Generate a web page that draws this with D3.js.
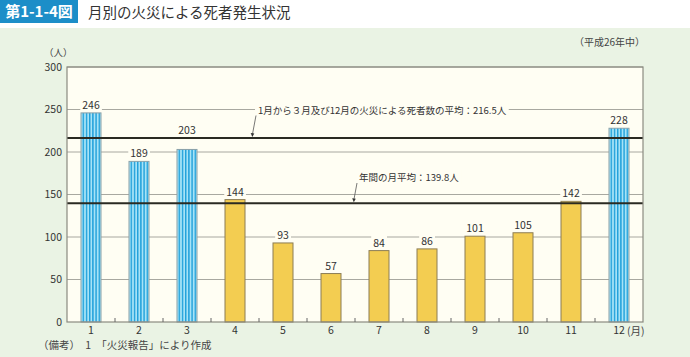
<!DOCTYPE html>
<html><head><meta charset="utf-8">
<script src="https://cdn.jsdelivr.net/npm/d3@7"></script>
<style>body{margin:0;background:#fff;}svg{display:block;font-family:"Noto Sans CJK JP","Noto Sans",sans-serif;}</style>
</head><body><svg id="c" width="690" height="357"></svg>
<script>
const months = ["1","2","3","4","5","6","7","8","9","10","11","12"];
const deaths = [246,189,203,144,93,57,84,86,101,105,142,228];
const highlight = [true,true,true,false,false,false,false,false,false,false,false,true];
const yTicks = [0,50,100,150,200,250,300];
const avgWinter = 216.5;
const avgYear = 139.8;
const avgWinterLabel = "1月から３月及び12月の火災による死者数の平均：216.5人";
const avgYearLabel = "年間の月平均：139.8人";

(function(){
const svg = d3.select("#c");
const W = 690, H = 357;
const mL = 67, mR = 643, mT = 67, mB = 322;

svg.append("rect").attr("x",0).attr("y",28).attr("width",W).attr("height",H-28).attr("fill","#eaf3e4");
svg.append("rect").attr("x",0).attr("y",0).attr("width",78).attr("height",23).attr("fill","#1c8ec8");
svg.append("text").attr("x",39).attr("y",17).attr("text-anchor","middle").attr("fill","#fff")
  .attr("font-size",15).attr("font-weight","bold").text("第1-1-4図");
svg.append("text").attr("x",88).attr("y",17.5).attr("fill","#333").attr("font-size",14.5).text("月別の火災による死者発生状況");
svg.append("text").attr("x",645).attr("y",46).attr("text-anchor","end").attr("fill","#444").attr("font-size",10).text("（平成26年中）");

const defs = svg.append("defs");
const pat = defs.append("pattern").attr("id","stripes").attr("patternUnits","userSpaceOnUse")
  .attr("width",3.2).attr("height",10).attr("x",81);
pat.append("rect").attr("width",3.2).attr("height",10).attr("fill","#a6e3f7");
pat.append("rect").attr("x",1.6).attr("width",1.4).attr("height",10).attr("fill","#1fa0da");

const x = d3.scaleBand().domain(months).range([mL,mR]).paddingInner(0).paddingOuter(0);
const y = d3.scaleLinear().domain([0,300]).range([mB,mT]);

svg.append("rect").attr("x",mL).attr("y",mT).attr("width",mR-mL).attr("height",mB-mT).attr("fill","#fffef3");

svg.append("g").selectAll("line").data(yTicks.filter(d=>d>0)).join("line")
  .attr("x1",mL).attr("x2",mR).attr("y1",d=>y(d)).attr("y2",d=>y(d))
  .attr("stroke","#a8a8a0").attr("stroke-width",1);

const bw = 20;
svg.append("g").selectAll("rect").data(deaths).join("rect")
  .attr("x",(d,i)=>x(months[i])+x.bandwidth()/2-bw/2)
  .attr("y",d=>y(d)).attr("width",bw).attr("height",d=>y(0)-y(d))
  .attr("fill",(d,i)=>highlight[i]?"url(#stripes)":"#f3cd51")
  .attr("stroke",(d,i)=>highlight[i]?"#8aa0a8":"#8c7d55").attr("stroke-width",1);

[avgWinter,avgYear].forEach(v=>{
  svg.append("line").attr("x1",mL).attr("x2",mR).attr("y1",y(v)).attr("y2",y(v))
    .attr("stroke","#2a2a22").attr("stroke-width",2);
});

const vl = svg.append("g");
deaths.forEach((d,i)=>{
  const cx = x(months[i])+x.bandwidth()/2;
  let ly = y(d)-4;
  [avgWinter,avgYear].forEach(a=>{ if (ly > y(a)-2 && ly-10 < y(a)+2) ly = y(a)-4; });
  const t = vl.append("text").attr("x",cx).attr("y",ly).attr("text-anchor","middle")
    .attr("font-size",10.5).attr("fill","#333").text(d);
  const bb = t.node().getBBox();
  vl.insert("rect","text").attr("x",bb.x-2).attr("y",bb.y).attr("width",bb.width+4).attr("height",bb.height).attr("fill","#fffef3");
});

function annot(label, tx, ty, ax, av, fs){
  const g = svg.append("g");
  const t = g.append("text").attr("x",tx).attr("y",ty).attr("font-size",fs).attr("fill","#333").text(label);
  const bb = t.node().getBBox();
  g.insert("rect","text").attr("x",bb.x-3).attr("y",bb.y).attr("width",bb.width+5).attr("height",bb.height).attr("fill","#fffef3");
  const ay = y(av)-1;
  g.append("line").attr("x1",tx-2).attr("y1",ty+2).attr("x2",ax).attr("y2",ay-3).attr("stroke","#555").attr("stroke-width",0.8);
  g.append("path").attr("d",`M${ax-1.8},${ay-4} L${ax+1.8},${ay-3.4} L${ax-0.2},${ay} Z`).attr("fill","#333");
}
annot(avgWinterLabel, 258, y(250)+4, 252.5, avgWinter, 9.5);
annot(avgYearLabel, 359, 181, 354, avgYear, 9.5);

svg.append("rect").attr("x",mL).attr("y",mT).attr("width",mR-mL).attr("height",mB-mT)
  .attr("fill","none").attr("stroke","#8a8a80").attr("stroke-width",1.2);

const ya = svg.append("g").attr("transform",`translate(${mL},0)`)
  .call(d3.axisLeft(y).tickValues(yTicks).tickSize(0).tickPadding(5));
ya.select(".domain").remove();
ya.selectAll("text").attr("font-size",10.5).attr("fill","#333").style("font-family","'Noto Sans CJK JP',sans-serif");

const xa = svg.append("g").attr("transform",`translate(0,${mB})`)
  .call(d3.axisBottom(x).tickSize(0).tickPadding(5));
xa.select(".domain").remove();
xa.selectAll("text").attr("font-size",10.5).attr("fill","#333").style("font-family","'Noto Sans CJK JP',sans-serif");

svg.append("g").selectAll("line").data(months.slice(1)).join("line")
  .attr("x1",d=>x(d)).attr("x2",d=>x(d)).attr("y1",mB).attr("y2",mB-4)
  .attr("stroke","#666").attr("stroke-width",1);

svg.append("text").attr("x",44).attr("y",56).attr("font-size",9.5).attr("fill","#444").text("（人）");
svg.append("text").attr("x",627).attr("y",mB+13).attr("font-size",10.5).attr("fill","#444").text("(月)");
svg.append("text").attr("x",38).attr("y",349).attr("font-size",10.5).attr("fill","#444").text("（備考）　1　「火災報告」により作成");
})();
</script></body></html>
